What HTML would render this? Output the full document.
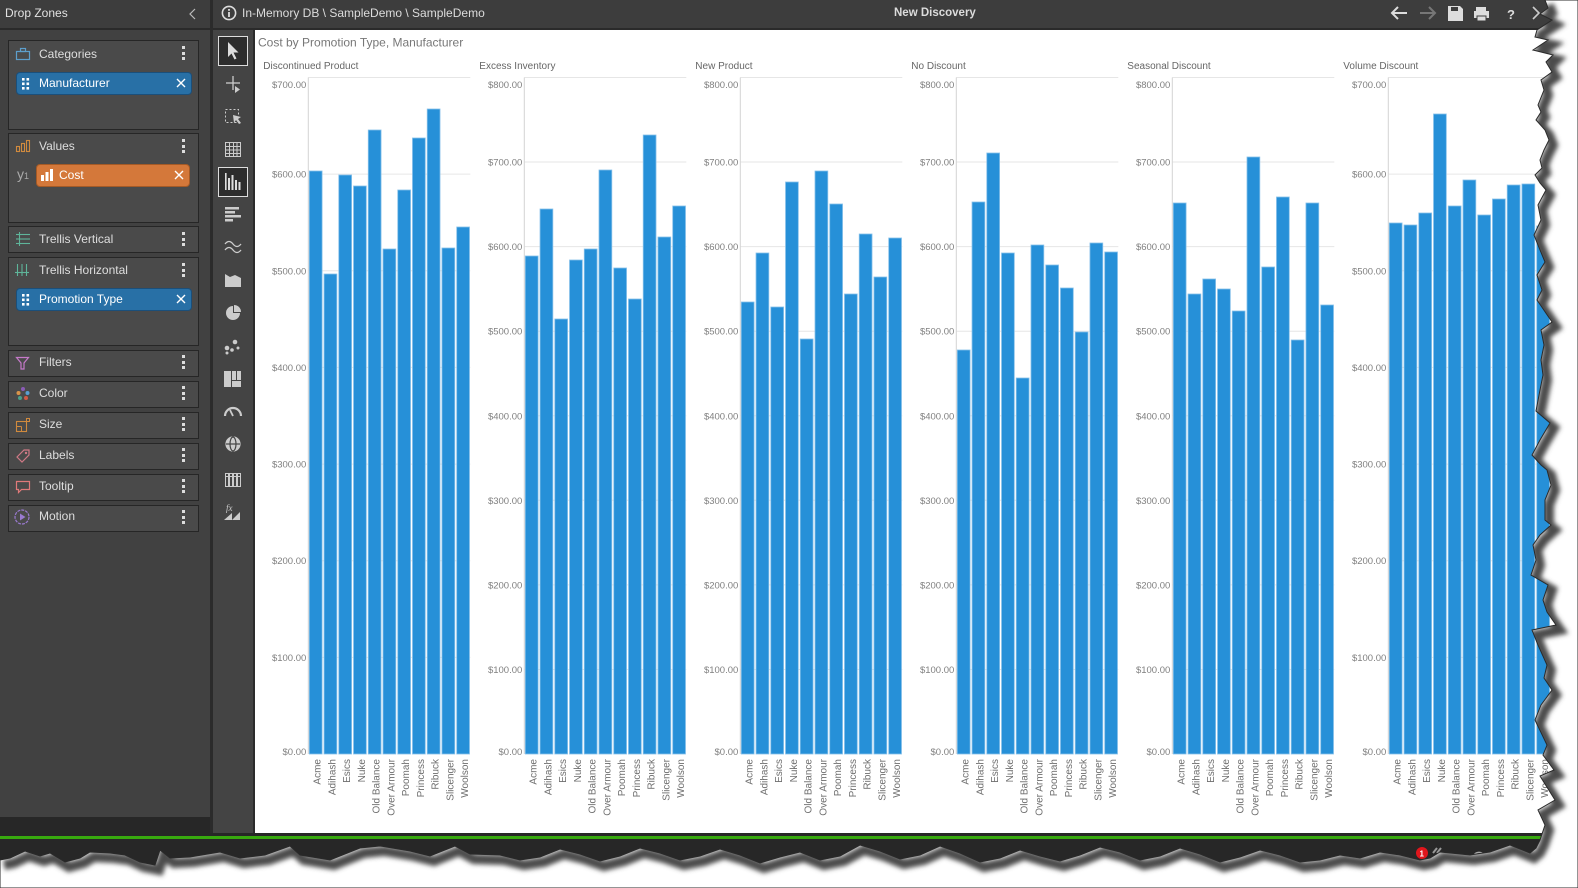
<!DOCTYPE html>
<html>
<head>
<meta charset="utf-8">
<style>
*{margin:0;padding:0;box-sizing:border-box;}
html,body{width:1578px;height:888px;overflow:hidden;background:#fff;}
body{position:relative;font-family:"Liberation Sans",sans-serif;}
.abs{position:absolute;}
.box{position:absolute;left:8px;width:191px;background:#4a4a4a;border:1px solid #262626;}
.lbl{position:absolute;left:31px;font-size:12px;color:#dedede;line-height:16px;white-space:nowrap;}
.keb{position:absolute;left:174px;width:3px;}
.keb i{display:block;width:3px;height:3px;background:#ddd;margin-bottom:2.5px;}
.chip{position:absolute;border-radius:4px;color:#fff;font-size:12px;line-height:20px;white-space:nowrap;}
.ico{position:absolute;}
</style>
</head>
<body>
<!-- top / header -->
<div class="abs" style="left:0;top:0;width:210px;height:28px;background:#3d3d3d;"></div>
<div class="abs" style="left:213px;top:0;width:1365px;height:28px;background:#3d3d3d;"></div>
<div class="abs" style="left:0;top:28px;width:1578px;height:2px;background:#2a2a2a;"></div>
<div class="abs" style="left:210px;top:0;width:3px;height:888px;background:#2b2b2b;"></div>
<div class="abs" style="left:5px;top:5px;font-size:12px;line-height:16px;color:#e2e2e2;">Drop Zones</div>
<svg class="abs" style="left:186px;top:7px" width="12" height="14"><polyline points="9,2 4,7 9,12" fill="none" stroke="#bbb" stroke-width="1.2"/></svg>

<svg class="abs" style="left:221px;top:5px" width="17" height="17"><circle cx="8" cy="8" r="6.6" fill="none" stroke="#ddd" stroke-width="1.6"/><rect x="7.1" y="7" width="1.8" height="5" fill="#ddd"/><rect x="7.1" y="4" width="1.8" height="1.8" fill="#ddd"/></svg>
<div class="abs" style="left:242px;top:5px;font-size:12px;line-height:16px;color:#dcdcdc;white-space:nowrap;">In-Memory DB \ SampleDemo \ SampleDemo</div>
<div class="abs" style="left:894px;top:5px;font-size:11.5px;font-weight:bold;line-height:16px;color:#dcdcdc;white-space:nowrap;">New Discovery</div>
<svg class="abs" style="left:1388px;top:4px" width="160" height="20">
 <g stroke="#ddd" stroke-width="2" fill="none"><line x1="4" y1="9" x2="19" y2="9"/><polyline points="10,3 4,9 10,15"/></g>
 <g stroke="#777" stroke-width="2" fill="none"><line x1="32" y1="9" x2="47" y2="9"/><polyline points="41,3 47,9 41,15"/></g>
 <path d="M60 2 h12 l3 3 v12 h-15 z" fill="#ddd"/><rect x="63" y="3" width="7" height="4" fill="#3d3d3d"/>
 <rect x="88" y="3" width="10" height="4" fill="#ddd"/><rect x="86" y="7" width="15" height="7" fill="#ddd"/><rect x="89" y="12" width="9" height="5" fill="#ddd" stroke="#3d3d3d" stroke-width="1"/>
 <text x="119" y="15" font-size="13" font-weight="bold" fill="#ddd" font-family="Liberation Sans">?</text>
 <polyline points="145,3 151,9 145,15" stroke="#ccc" stroke-width="1.6" fill="none"/>
</svg>

<!-- left panel body -->
<div class="abs" style="left:0;top:30px;width:210px;height:787px;background:#414141;"></div>
<div class="abs" style="left:0;top:817px;width:210px;height:20px;background:#272727;"></div>

<!-- Categories -->
<div class="box" style="top:40px;height:90px;"></div>
<svg class="ico" style="left:15px;top:46px" width="16" height="16"><rect x="1.5" y="5.5" width="13" height="8" fill="none" stroke="#5d9fcc" stroke-width="1.2"/><rect x="5.5" y="2.5" width="5" height="3" fill="none" stroke="#5d9fcc" stroke-width="1.2"/></svg>
<div class="lbl" style="left:39px;top:46px;">Categories</div>
<div class="keb" style="left:182px;top:46px;"><i></i><i></i><i></i></div>
<div class="chip" style="left:16px;top:72px;width:176px;height:23px;background:#2870a6;border:1px solid #1b4f7a;">
 <svg style="position:absolute;left:5px;top:5px" width="8" height="12"><g fill="#fff"><rect x="0" y="0" width="2.6" height="2.6"/><rect x="4.5" y="0" width="2.6" height="2.6"/><rect x="0" y="4.5" width="2.6" height="2.6"/><rect x="4.5" y="4.5" width="2.6" height="2.6"/><rect x="0" y="9" width="2.6" height="2.6"/><rect x="4.5" y="9" width="2.6" height="2.6"/></g></svg>
 <span style="position:absolute;left:22px;top:0;">Manufacturer</span>
 <svg style="position:absolute;left:159px;top:5px" width="10" height="10"><path d="M1 1L9 9M9 1L1 9" stroke="#fff" stroke-width="1.4"/></svg>
</div>

<!-- Values -->
<div class="box" style="top:133px;height:90px;"></div>
<svg class="ico" style="left:15px;top:139px" width="16" height="14"><g fill="none" stroke="#d08a3e" stroke-width="1.1"><rect x="1.5" y="7.5" width="3" height="5"/><rect x="6.5" y="4.5" width="3" height="8"/><rect x="11.5" y="1.5" width="3" height="11"/></g></svg>
<div class="lbl" style="left:39px;top:138px;">Values</div>
<div class="keb" style="left:182px;top:139px;"><i></i><i></i><i></i></div>
<div class="abs" style="left:17px;top:165px;font-size:14px;color:#aaa;line-height:18px;">y<span style="font-size:9px">1</span></div>
<div class="chip" style="left:36px;top:164px;width:154px;height:23px;background:#d4783a;border:1px solid #a55a26;">
 <svg style="position:absolute;left:4px;top:4px" width="12" height="12"><g fill="#fff"><rect x="0" y="6" width="3" height="6"/><rect x="4.5" y="3" width="3" height="9"/><rect x="9" y="0" width="3" height="12"/></g></svg>
 <span style="position:absolute;left:22px;top:0;">Cost</span>
 <svg style="position:absolute;left:137px;top:5px" width="10" height="10"><path d="M1 1L9 9M9 1L1 9" stroke="#fff" stroke-width="1.4"/></svg>
</div>

<!-- Trellis Vertical -->
<div class="box" style="top:226px;height:27px;"></div>
<svg class="ico" style="left:15px;top:232px" width="16" height="14"><g stroke="#5fb59a" stroke-width="1.1"><line x1="1" y1="2.5" x2="15" y2="2.5"/><line x1="1" y1="7" x2="15" y2="7"/><line x1="1" y1="11.5" x2="15" y2="11.5"/><line x1="4.5" y1="0" x2="4.5" y2="14"/></g></svg>
<div class="lbl" style="left:39px;top:231px;">Trellis Vertical</div>
<div class="keb" style="left:182px;top:232px;"><i></i><i></i><i></i></div>

<!-- Trellis Horizontal -->
<div class="box" style="top:257px;height:89px;"></div>
<svg class="ico" style="left:15px;top:263px" width="16" height="14"><g stroke="#5fb59a" stroke-width="1.1"><line x1="2.5" y1="1" x2="2.5" y2="13"/><line x1="7" y1="1" x2="7" y2="13"/><line x1="11.5" y1="1" x2="11.5" y2="13"/><line x1="0" y1="9.5" x2="14" y2="9.5"/></g></svg>
<div class="lbl" style="left:39px;top:262px;">Trellis Horizontal</div>
<div class="keb" style="left:182px;top:263px;"><i></i><i></i><i></i></div>
<div class="chip" style="left:16px;top:288px;width:176px;height:23px;background:#2870a6;border:1px solid #1b4f7a;">
 <svg style="position:absolute;left:5px;top:5px" width="8" height="12"><g fill="#fff"><rect x="0" y="0" width="2.6" height="2.6"/><rect x="4.5" y="0" width="2.6" height="2.6"/><rect x="0" y="4.5" width="2.6" height="2.6"/><rect x="4.5" y="4.5" width="2.6" height="2.6"/><rect x="0" y="9" width="2.6" height="2.6"/><rect x="4.5" y="9" width="2.6" height="2.6"/></g></svg>
 <span style="position:absolute;left:22px;top:0;">Promotion Type</span>
 <svg style="position:absolute;left:159px;top:5px" width="10" height="10"><path d="M1 1L9 9M9 1L1 9" stroke="#fff" stroke-width="1.4"/></svg>
</div>

<!-- small boxes -->
<div class="box" style="top:350px;height:27px;"></div>
<svg class="ico" style="left:15px;top:355px" width="16" height="16"><path d="M1.5 2.5h12l-4.5 5.5v6h-3v-6z" fill="none" stroke="#c57ac9" stroke-width="1.2"/></svg>
<div class="lbl" style="left:39px;top:354px;">Filters</div>
<div class="keb" style="left:182px;top:355px;"><i></i><i></i><i></i></div>

<div class="box" style="top:381px;height:27px;"></div>
<svg class="ico" style="left:15px;top:386px" width="16" height="16"><circle cx="8" cy="3" r="2" fill="#8a5bb5"/><circle cx="3.5" cy="7" r="2" fill="#d9944a"/><circle cx="12.5" cy="7" r="2" fill="#5a9fd1"/><circle cx="5" cy="12" r="2" fill="#4ca089"/><circle cx="11" cy="12" r="2" fill="#d25a45"/></svg>
<div class="lbl" style="left:39px;top:385px;">Color</div>
<div class="keb" style="left:182px;top:386px;"><i></i><i></i><i></i></div>

<div class="box" style="top:412px;height:27px;"></div>
<svg class="ico" style="left:15px;top:417px" width="16" height="16"><rect x="1.5" y="4.5" width="10" height="10" fill="none" stroke="#d08a3e" stroke-width="1.1"/><line x1="1.5" y1="9.5" x2="6.5" y2="9.5" stroke="#d08a3e"/><line x1="6.5" y1="9.5" x2="6.5" y2="14.5" stroke="#d08a3e"/><rect x="11.5" y="1.5" width="3" height="3" fill="none" stroke="#d08a3e"/></svg>
<div class="lbl" style="left:39px;top:416px;">Size</div>
<div class="keb" style="left:182px;top:417px;"><i></i><i></i><i></i></div>

<div class="box" style="top:443px;height:27px;"></div>
<svg class="ico" style="left:15px;top:448px" width="16" height="16"><path d="M2 9l7-7h5v5l-7 7z" fill="none" stroke="#d07a86" stroke-width="1.2"/><circle cx="11" cy="5" r="1.2" fill="#d07a86"/></svg>
<div class="lbl" style="left:39px;top:447px;">Labels</div>
<div class="keb" style="left:182px;top:448px;"><i></i><i></i><i></i></div>

<div class="box" style="top:474px;height:27px;"></div>
<svg class="ico" style="left:15px;top:479px" width="16" height="16"><path d="M1.5 2.5h13v8h-8l-3 3v-3h-2z" fill="none" stroke="#e07a7a" stroke-width="1.2"/></svg>
<div class="lbl" style="left:39px;top:478px;">Tooltip</div>
<div class="keb" style="left:182px;top:479px;"><i></i><i></i><i></i></div>

<div class="box" style="top:505px;height:27px;"></div>
<svg class="ico" style="left:13px;top:508px" width="18" height="18"><circle cx="9" cy="9" r="7" fill="none" stroke="#9a7ad0" stroke-width="1.2" stroke-dasharray="3 1"/><path d="M7 5.5v7l5.5-3.5z" fill="#9a7ad0"/></svg>
<div class="lbl" style="left:39px;top:508px;">Motion</div>
<div class="keb" style="left:182px;top:510px;"><i></i><i></i><i></i></div>

<!-- toolbar -->
<div class="abs" style="left:213px;top:30px;width:40px;height:803px;background:#444;"></div>
<div class="abs" style="left:253px;top:30px;width:2px;height:803px;background:#2b2b2b;"></div>
<svg class="abs" style="left:213px;top:30px" width="40" height="500">
 <rect x="5.5" y="6.5" width="29" height="29" fill="#2d2d2d" stroke="#ddd"/>
 <path d="M15 12 v15 l3.5-3.5 3 6 2-1-3-6 h5z" fill="#ddd"/>
 <g stroke="#ccc" stroke-width="1.3"><line x1="20" y1="46" x2="20" y2="60"/><line x1="13" y1="53" x2="27" y2="53"/></g><path d="M22 56v7l5-3.5z" fill="#ccc"/>
 <rect x="12.5" y="79.5" width="13" height="13" fill="none" stroke="#ccc" stroke-dasharray="2 2"/><path d="M20 85l8 2-3 2 3 4-2 1-3-4-2 3z" fill="#ccc"/>
 <g fill="none" stroke="#ccc" stroke-width="1"><rect x="12.5" y="112.5" width="15" height="14"/><line x1="12.5" y1="116.5" x2="27.5" y2="116.5"/><line x1="12.5" y1="120" x2="27.5" y2="120"/><line x1="12.5" y1="123.5" x2="27.5" y2="123.5"/><line x1="16.5" y1="112.5" x2="16.5" y2="126.5"/><line x1="20.5" y1="112.5" x2="20.5" y2="126.5"/><line x1="24" y1="112.5" x2="24" y2="126.5"/></g>
 <rect x="5.5" y="137.5" width="29" height="29" fill="#2d2d2d" stroke="#ddd"/>
 <g fill="#ddd"><rect x="12" y="143" width="1.6" height="17"/><rect x="15" y="148" width="2" height="12"/><rect x="18.5" y="145" width="2" height="15"/><rect x="22" y="150" width="2" height="10"/><rect x="25.5" y="152" width="2" height="8"/></g>
 <g fill="#ccc"><rect x="12" y="177" width="14" height="2.5"/><rect x="12" y="181" width="10" height="2.5"/><rect x="12" y="185" width="16" height="2.5"/><rect x="12" y="189" width="8" height="2.5"/></g>
 <g fill="none" stroke="#ccc" stroke-width="1.3"><path d="M12 214 q4-5 8 0 t8 0"/><path d="M12 220 q4-5 8 0 t8 0"/></g>
 <path d="M12 244 l5 3 5-2 6 3 v9 h-16z" fill="#ccc"/>
 <path d="M20 276 a7 7 0 1 0 7 7 h-7z" fill="#ccc"/><path d="M21 275 a7 7 0 0 1 7 7 h-7z" fill="#ccc"/>
 <g fill="#ccc"><circle cx="14" cy="318" r="2.3"/><circle cx="22" cy="312" r="2.3"/><circle cx="19" cy="320" r="1.8"/><circle cx="25" cy="318" r="1.5"/><circle cx="14" cy="323" r="1.5"/></g>
 <g fill="#ccc"><rect x="11" y="341" width="7" height="16"/><rect x="19" y="341" width="4" height="9"/><rect x="24" y="341" width="4" height="9"/><rect x="19" y="351" width="9" height="6"/></g>
 <path d="M12 386 a8 8 0 0 1 16 0" fill="none" stroke="#ccc" stroke-width="2.2"/><line x1="20" y1="386" x2="17" y2="380" stroke="#ccc" stroke-width="1.8"/>
 <g fill="none" stroke="#ccc" stroke-width="1.2"><circle cx="20" cy="414" r="7" fill="#ccc"/><ellipse cx="20" cy="414" rx="3" ry="7" stroke="#444"/><line x1="13" y1="414" x2="27" y2="414" stroke="#444"/></g>
 <g fill="none" stroke="#ccc" stroke-width="1"><rect x="12.5" y="443.5" width="3" height="13"/><rect x="16.5" y="443.5" width="3" height="13"/><rect x="20.5" y="443.5" width="3" height="13"/><rect x="24.5" y="443.5" width="3" height="13"/><line x1="12" y1="446.5" x2="28" y2="446.5"/></g>
 <text x="13" y="481" font-size="9" font-style="italic" fill="#ccc" font-family="Liberation Serif">fx</text><path d="M11 490 l8-7 v7z M19 490 l8-8 v8z" fill="#ccc"/>
</svg>

<!-- bottom -->
<div class="abs" style="left:0;top:833px;width:1578px;height:55px;background:#272727;"></div>
<div class="abs" style="left:0;top:836px;width:1578px;height:3px;background:#38a90f;"></div>
<svg class="abs" style="left:1410px;top:840px" width="120" height="25"><circle cx="12" cy="13" r="6" fill="#e0161c"/><text x="9.5" y="16.5" font-size="8" fill="#fff" font-family="Liberation Sans" font-weight="bold">1</text><path d="M23 13 l4-5 M27 13 l4-5" stroke="#999" stroke-width="2"/><path d="M64 15 a6 6 0 0 1 10 0" stroke="#aaa" fill="none" stroke-width="1.5"/><path d="M93 13 a6 6 0 0 1 10 3" stroke="#aaa" fill="none" stroke-width="1.5"/></svg>

<!-- chart area -->
<div class="abs" style="left:255px;top:30px;width:1323px;height:803px;background:#fff;"></div>

<svg class="abs" style="left:0;top:0" width="1578" height="888" font-family="Liberation Sans">
<text x="258" y="46.5" font-size="12" fill="#777">Cost by Promotion Type, Manufacturer</text>

<!-- Panel 1 -->
<g transform="translate(308.3,0)">
 <text x="-45" y="69" font-size="10" fill="#666">Discontinued Product</text>
 <g stroke="#e6e6e6" stroke-width="1"><line x1="0" y1="77.5" x2="162" y2="77.5"/><line x1="0" y1="174.14" x2="162" y2="174.14"/><line x1="0" y1="270.79" x2="162" y2="270.79"/><line x1="0" y1="367.43" x2="162" y2="367.43"/><line x1="0" y1="464.07" x2="162" y2="464.07"/><line x1="0" y1="560.71" x2="162" y2="560.71"/><line x1="0" y1="657.36" x2="162" y2="657.36"/></g>
 <line x1="0" y1="77.5" x2="0" y2="754" stroke="#d4d4d4"/>
 <g font-size="9.5" fill="#808080" text-anchor="end"><text x="-2" y="87.8">$700.00</text><text x="-2" y="177.6">$600.00</text><text x="-2" y="274.3">$500.00</text><text x="-2" y="370.9">$400.00</text><text x="-2" y="467.6">$300.00</text><text x="-2" y="564.2">$200.00</text><text x="-2" y="660.9">$100.00</text><text x="-2" y="755">$0.00</text></g>
 <g fill="#2690d8" stroke="#86c0ea" stroke-width="0.8">
  <rect x="1" y="171" width="12.8" height="583"/><rect x="15.74" y="274" width="12.8" height="480"/><rect x="30.48" y="175" width="12.8" height="579"/><rect x="45.22" y="186" width="12.8" height="568"/><rect x="59.96" y="130" width="12.8" height="624"/><rect x="74.7" y="249" width="12.8" height="505"/><rect x="89.44" y="190" width="12.8" height="564"/><rect x="104.18" y="138" width="12.8" height="616"/><rect x="118.92" y="109" width="12.8" height="645"/><rect x="133.66" y="248" width="12.8" height="506"/><rect x="148.4" y="227" width="12.8" height="527"/>
 </g>
 <g font-size="10" fill="#6e6e6e" text-anchor="end">
  <text transform="translate(12.4,759) rotate(-90)">Acme</text><text transform="translate(27.14,759) rotate(-90)">Adihash</text><text transform="translate(41.88,759) rotate(-90)">Esics</text><text transform="translate(56.62,759) rotate(-90)">Nuke</text><text transform="translate(71.36,759) rotate(-90)">Old Balance</text><text transform="translate(86.1,759) rotate(-90)">Over Armour</text><text transform="translate(100.84,759) rotate(-90)">Poomah</text><text transform="translate(115.58,759) rotate(-90)">Princess</text><text transform="translate(130.32,759) rotate(-90)">Ribuck</text><text transform="translate(145.06,759) rotate(-90)">Slicenger</text><text transform="translate(159.8,759) rotate(-90)">Woolson</text>
 </g>
</g>

<!-- Panel 2 -->
<g transform="translate(524.3,0)">
 <text x="-45" y="69" font-size="10" fill="#666">Excess Inventory</text>
 <g stroke="#e6e6e6" stroke-width="1"><line x1="0" y1="77.5" x2="162" y2="77.5"/><line x1="0" y1="162.06" x2="162" y2="162.06"/><line x1="0" y1="246.63" x2="162" y2="246.63"/><line x1="0" y1="331.19" x2="162" y2="331.19"/><line x1="0" y1="415.75" x2="162" y2="415.75"/><line x1="0" y1="500.31" x2="162" y2="500.31"/><line x1="0" y1="584.88" x2="162" y2="584.88"/><line x1="0" y1="669.44" x2="162" y2="669.44"/></g>
 <line x1="0" y1="77.5" x2="0" y2="754" stroke="#d4d4d4"/>
 <g font-size="9.5" fill="#808080" text-anchor="end"><text x="-2" y="87.8">$800.00</text><text x="-2" y="165.6">$700.00</text><text x="-2" y="250.1">$600.00</text><text x="-2" y="334.7">$500.00</text><text x="-2" y="419.3">$400.00</text><text x="-2" y="503.8">$300.00</text><text x="-2" y="588.4">$200.00</text><text x="-2" y="672.9">$100.00</text><text x="-2" y="755">$0.00</text></g>
 <g fill="#2690d8" stroke="#86c0ea" stroke-width="0.8">
  <rect x="1" y="256" width="12.8" height="498"/><rect x="15.74" y="209" width="12.8" height="545"/><rect x="30.48" y="319" width="12.8" height="435"/><rect x="45.22" y="260" width="12.8" height="494"/><rect x="59.96" y="249" width="12.8" height="505"/><rect x="74.7" y="170" width="12.8" height="584"/><rect x="89.44" y="268" width="12.8" height="486"/><rect x="104.18" y="299" width="12.8" height="455"/><rect x="118.92" y="135" width="12.8" height="619"/><rect x="133.66" y="237" width="12.8" height="517"/><rect x="148.4" y="206" width="12.8" height="548"/>
 </g>
 <g font-size="10" fill="#6e6e6e" text-anchor="end">
  <text transform="translate(12.4,759) rotate(-90)">Acme</text><text transform="translate(27.14,759) rotate(-90)">Adihash</text><text transform="translate(41.88,759) rotate(-90)">Esics</text><text transform="translate(56.62,759) rotate(-90)">Nuke</text><text transform="translate(71.36,759) rotate(-90)">Old Balance</text><text transform="translate(86.1,759) rotate(-90)">Over Armour</text><text transform="translate(100.84,759) rotate(-90)">Poomah</text><text transform="translate(115.58,759) rotate(-90)">Princess</text><text transform="translate(130.32,759) rotate(-90)">Ribuck</text><text transform="translate(145.06,759) rotate(-90)">Slicenger</text><text transform="translate(159.8,759) rotate(-90)">Woolson</text>
 </g>
</g>

<!-- Panel 3 -->
<g transform="translate(740.3,0)">
 <text x="-45" y="69" font-size="10" fill="#666">New Product</text>
 <g stroke="#e6e6e6" stroke-width="1"><line x1="0" y1="77.5" x2="162" y2="77.5"/><line x1="0" y1="162.06" x2="162" y2="162.06"/><line x1="0" y1="246.63" x2="162" y2="246.63"/><line x1="0" y1="331.19" x2="162" y2="331.19"/><line x1="0" y1="415.75" x2="162" y2="415.75"/><line x1="0" y1="500.31" x2="162" y2="500.31"/><line x1="0" y1="584.88" x2="162" y2="584.88"/><line x1="0" y1="669.44" x2="162" y2="669.44"/></g>
 <line x1="0" y1="77.5" x2="0" y2="754" stroke="#d4d4d4"/>
 <g font-size="9.5" fill="#808080" text-anchor="end"><text x="-2" y="87.8">$800.00</text><text x="-2" y="165.6">$700.00</text><text x="-2" y="250.1">$600.00</text><text x="-2" y="334.7">$500.00</text><text x="-2" y="419.3">$400.00</text><text x="-2" y="503.8">$300.00</text><text x="-2" y="588.4">$200.00</text><text x="-2" y="672.9">$100.00</text><text x="-2" y="755">$0.00</text></g>
 <g fill="#2690d8" stroke="#86c0ea" stroke-width="0.8">
  <rect x="1" y="302" width="12.8" height="452"/><rect x="15.74" y="253" width="12.8" height="501"/><rect x="30.48" y="307" width="12.8" height="447"/><rect x="45.22" y="182" width="12.8" height="572"/><rect x="59.96" y="339" width="12.8" height="415"/><rect x="74.7" y="171" width="12.8" height="583"/><rect x="89.44" y="204" width="12.8" height="550"/><rect x="104.18" y="294" width="12.8" height="460"/><rect x="118.92" y="234" width="12.8" height="520"/><rect x="133.66" y="277" width="12.8" height="477"/><rect x="148.4" y="238" width="12.8" height="516"/>
 </g>
 <g font-size="10" fill="#6e6e6e" text-anchor="end">
  <text transform="translate(12.4,759) rotate(-90)">Acme</text><text transform="translate(27.14,759) rotate(-90)">Adihash</text><text transform="translate(41.88,759) rotate(-90)">Esics</text><text transform="translate(56.62,759) rotate(-90)">Nuke</text><text transform="translate(71.36,759) rotate(-90)">Old Balance</text><text transform="translate(86.1,759) rotate(-90)">Over Armour</text><text transform="translate(100.84,759) rotate(-90)">Poomah</text><text transform="translate(115.58,759) rotate(-90)">Princess</text><text transform="translate(130.32,759) rotate(-90)">Ribuck</text><text transform="translate(145.06,759) rotate(-90)">Slicenger</text><text transform="translate(159.8,759) rotate(-90)">Woolson</text>
 </g>
</g>

<!-- Panel 4 -->
<g transform="translate(956.3,0)">
 <text x="-45" y="69" font-size="10" fill="#666">No Discount</text>
 <g stroke="#e6e6e6" stroke-width="1"><line x1="0" y1="77.5" x2="162" y2="77.5"/><line x1="0" y1="162.06" x2="162" y2="162.06"/><line x1="0" y1="246.63" x2="162" y2="246.63"/><line x1="0" y1="331.19" x2="162" y2="331.19"/><line x1="0" y1="415.75" x2="162" y2="415.75"/><line x1="0" y1="500.31" x2="162" y2="500.31"/><line x1="0" y1="584.88" x2="162" y2="584.88"/><line x1="0" y1="669.44" x2="162" y2="669.44"/></g>
 <line x1="0" y1="77.5" x2="0" y2="754" stroke="#d4d4d4"/>
 <g font-size="9.5" fill="#808080" text-anchor="end"><text x="-2" y="87.8">$800.00</text><text x="-2" y="165.6">$700.00</text><text x="-2" y="250.1">$600.00</text><text x="-2" y="334.7">$500.00</text><text x="-2" y="419.3">$400.00</text><text x="-2" y="503.8">$300.00</text><text x="-2" y="588.4">$200.00</text><text x="-2" y="672.9">$100.00</text><text x="-2" y="755">$0.00</text></g>
 <g fill="#2690d8" stroke="#86c0ea" stroke-width="0.8">
  <rect x="1" y="350" width="12.8" height="404"/><rect x="15.74" y="202" width="12.8" height="552"/><rect x="30.48" y="153" width="12.8" height="601"/><rect x="45.22" y="253" width="12.8" height="501"/><rect x="59.96" y="378" width="12.8" height="376"/><rect x="74.7" y="245" width="12.8" height="509"/><rect x="89.44" y="265" width="12.8" height="489"/><rect x="104.18" y="288" width="12.8" height="466"/><rect x="118.92" y="332" width="12.8" height="422"/><rect x="133.66" y="243" width="12.8" height="511"/><rect x="148.4" y="252" width="12.8" height="502"/>
 </g>
 <g font-size="10" fill="#6e6e6e" text-anchor="end">
  <text transform="translate(12.4,759) rotate(-90)">Acme</text><text transform="translate(27.14,759) rotate(-90)">Adihash</text><text transform="translate(41.88,759) rotate(-90)">Esics</text><text transform="translate(56.62,759) rotate(-90)">Nuke</text><text transform="translate(71.36,759) rotate(-90)">Old Balance</text><text transform="translate(86.1,759) rotate(-90)">Over Armour</text><text transform="translate(100.84,759) rotate(-90)">Poomah</text><text transform="translate(115.58,759) rotate(-90)">Princess</text><text transform="translate(130.32,759) rotate(-90)">Ribuck</text><text transform="translate(145.06,759) rotate(-90)">Slicenger</text><text transform="translate(159.8,759) rotate(-90)">Woolson</text>
 </g>
</g>

<!-- Panel 5 -->
<g transform="translate(1172.3,0)">
 <text x="-45" y="69" font-size="10" fill="#666">Seasonal Discount</text>
 <g stroke="#e6e6e6" stroke-width="1"><line x1="0" y1="77.5" x2="162" y2="77.5"/><line x1="0" y1="162.06" x2="162" y2="162.06"/><line x1="0" y1="246.63" x2="162" y2="246.63"/><line x1="0" y1="331.19" x2="162" y2="331.19"/><line x1="0" y1="415.75" x2="162" y2="415.75"/><line x1="0" y1="500.31" x2="162" y2="500.31"/><line x1="0" y1="584.88" x2="162" y2="584.88"/><line x1="0" y1="669.44" x2="162" y2="669.44"/></g>
 <line x1="0" y1="77.5" x2="0" y2="754" stroke="#d4d4d4"/>
 <g font-size="9.5" fill="#808080" text-anchor="end"><text x="-2" y="87.8">$800.00</text><text x="-2" y="165.6">$700.00</text><text x="-2" y="250.1">$600.00</text><text x="-2" y="334.7">$500.00</text><text x="-2" y="419.3">$400.00</text><text x="-2" y="503.8">$300.00</text><text x="-2" y="588.4">$200.00</text><text x="-2" y="672.9">$100.00</text><text x="-2" y="755">$0.00</text></g>
 <g fill="#2690d8" stroke="#86c0ea" stroke-width="0.8">
  <rect x="1" y="203" width="12.8" height="551"/><rect x="15.74" y="294" width="12.8" height="460"/><rect x="30.48" y="279" width="12.8" height="475"/><rect x="45.22" y="289" width="12.8" height="465"/><rect x="59.96" y="311" width="12.8" height="443"/><rect x="74.7" y="157" width="12.8" height="597"/><rect x="89.44" y="267" width="12.8" height="487"/><rect x="104.18" y="197" width="12.8" height="557"/><rect x="118.92" y="340" width="12.8" height="414"/><rect x="133.66" y="203" width="12.8" height="551"/><rect x="148.4" y="305" width="12.8" height="449"/>
 </g>
 <g font-size="10" fill="#6e6e6e" text-anchor="end">
  <text transform="translate(12.4,759) rotate(-90)">Acme</text><text transform="translate(27.14,759) rotate(-90)">Adihash</text><text transform="translate(41.88,759) rotate(-90)">Esics</text><text transform="translate(56.62,759) rotate(-90)">Nuke</text><text transform="translate(71.36,759) rotate(-90)">Old Balance</text><text transform="translate(86.1,759) rotate(-90)">Over Armour</text><text transform="translate(100.84,759) rotate(-90)">Poomah</text><text transform="translate(115.58,759) rotate(-90)">Princess</text><text transform="translate(130.32,759) rotate(-90)">Ribuck</text><text transform="translate(145.06,759) rotate(-90)">Slicenger</text><text transform="translate(159.8,759) rotate(-90)">Woolson</text>
 </g>
</g>

<!-- Panel 6 -->
<g transform="translate(1388.3,0)">
 <text x="-45" y="69" font-size="10" fill="#666">Volume Discount</text>
 <g stroke="#e6e6e6" stroke-width="1"><line x1="0" y1="77.5" x2="162" y2="77.5"/><line x1="0" y1="174.14" x2="162" y2="174.14"/><line x1="0" y1="270.79" x2="162" y2="270.79"/><line x1="0" y1="367.43" x2="162" y2="367.43"/><line x1="0" y1="464.07" x2="162" y2="464.07"/><line x1="0" y1="560.71" x2="162" y2="560.71"/><line x1="0" y1="657.36" x2="162" y2="657.36"/></g>
 <line x1="0" y1="77.5" x2="0" y2="754" stroke="#d4d4d4"/>
 <g font-size="9.5" fill="#808080" text-anchor="end"><text x="-2" y="87.8">$700.00</text><text x="-2" y="177.6">$600.00</text><text x="-2" y="274.3">$500.00</text><text x="-2" y="370.9">$400.00</text><text x="-2" y="467.6">$300.00</text><text x="-2" y="564.2">$200.00</text><text x="-2" y="660.9">$100.00</text><text x="-2" y="755">$0.00</text></g>
 <g fill="#2690d8" stroke="#86c0ea" stroke-width="0.8">
  <rect x="1" y="223" width="12.8" height="531"/><rect x="15.74" y="225" width="12.8" height="529"/><rect x="30.48" y="213" width="12.8" height="541"/><rect x="45.22" y="114" width="12.8" height="640"/><rect x="59.96" y="206" width="12.8" height="548"/><rect x="74.7" y="180" width="12.8" height="574"/><rect x="89.44" y="215" width="12.8" height="539"/><rect x="104.18" y="199" width="12.8" height="555"/><rect x="118.92" y="185" width="12.8" height="569"/><rect x="133.66" y="184" width="12.8" height="570"/><rect x="148.4" y="226" width="12.8" height="528"/>
 </g>
 <g font-size="10" fill="#6e6e6e" text-anchor="end">
  <text transform="translate(12.4,759) rotate(-90)">Acme</text><text transform="translate(27.14,759) rotate(-90)">Adihash</text><text transform="translate(41.88,759) rotate(-90)">Esics</text><text transform="translate(56.62,759) rotate(-90)">Nuke</text><text transform="translate(71.36,759) rotate(-90)">Old Balance</text><text transform="translate(86.1,759) rotate(-90)">Over Armour</text><text transform="translate(100.84,759) rotate(-90)">Poomah</text><text transform="translate(115.58,759) rotate(-90)">Princess</text><text transform="translate(130.32,759) rotate(-90)">Ribuck</text><text transform="translate(145.06,759) rotate(-90)">Slicenger</text><text transform="translate(159.8,759) rotate(-90)">Woolson</text>
 </g>
</g>
</svg>

<!-- torn edge overlay -->
<svg class="abs" style="left:0;top:0" width="1578" height="888">
<defs>
 <filter id="bl" x="-5%" y="-5%" width="110%" height="110%"><feGaussianBlur stdDeviation="2.4"/></filter>
 <clipPath id="outside"><path id="outp" d="M1578,0 L1545,0 L1548,8 L1540,14 L1552,20 L1537,30 L1535,37 L1548,40 L1533,50 L1553,55 L1546,62 L1552,72 L1541,80 L1544,90 L1538,105 L1541,112 L1536,120 L1545,130 L1549,140 L1544,150 L1540,160 L1542,168 L1535,175 L1540,183 L1546,190 L1538,205 L1541,220 L1534,235 L1540,250 L1545,262 L1537,275 L1542,290 L1537,300 L1552,322 L1541,330 L1544,345 L1541,360 L1543,375 L1540,390 L1536,411 L1550,423 L1540,440 L1532,455 L1541,465 L1547,470 L1551,485 L1545,500 L1545,520 L1551,525 L1540,535 L1533,545 L1536,560 L1531,575 L1548,585 L1543,600 L1547,612 L1556,625 L1532,630 L1538,645 L1547,665 L1544,678 L1552,690 L1541,705 L1535,720 L1547,745 L1543,755 L1554,770 L1540,776 L1555,800 L1538,810 L1545,825 L1540,840 L1536,848 L1530,853 L1510,845 L1490,852 L1470,855 L1440,852 L1430,858 L1420,860 L1400,855 L1380,852 L1360,858 L1340,855 L1320,860 L1300,862 L1280,855 L1260,850 L1240,857 L1220,862 L1200,854 L1180,848 L1160,856 L1140,860 L1120,852 L1100,847 L1080,855 L1060,861 L1040,856 L1020,850 L1000,858 L980,862 L960,853 L940,846 L920,855 L900,859 L880,851 L860,845 L840,856 L820,860 L800,852 L780,857 L760,863 L740,855 L720,849 L700,856 L680,860 L660,853 L640,848 L620,856 L600,861 L580,854 L560,849 L540,857 L520,860 L500,855 L470,854 L455,846 L430,856 L410,851 L380,846 L360,848 L330,860 L300,855 L290,846 L265,855 L240,858 L220,852 L190,857 L170,858 L160,850 L155,865 L140,862 L125,855 L110,853 L90,852 L80,858 L65,862 L50,853 L40,856 L25,851 L10,858 L0,860 L0,888 L1578,888 Z"/></clipPath>
</defs>
<use href="#outp" fill="#ffffff"/>
<g clip-path="url(#outside)">
 <polyline transform="translate(4,5)" filter="url(#bl)" fill="none" stroke="#4c4c4c" stroke-width="10" points="1545,0 1548,8 1540,14 1552,20 1537,30 1535,37 1548,40 1533,50 1553,55 1546,62 1552,72 1541,80 1544,90 1538,105 1541,112 1536,120 1545,130 1549,140 1544,150 1540,160 1542,168 1535,175 1540,183 1546,190 1538,205 1541,220 1534,235 1540,250 1545,262 1537,275 1542,290 1537,300 1552,322 1541,330 1544,345 1541,360 1543,375 1540,390 1536,411 1550,423 1540,440 1532,455 1541,465 1547,470 1551,485 1545,500 1545,520 1551,525 1540,535 1533,545 1536,560 1531,575 1548,585 1543,600 1547,612 1556,625 1532,630 1538,645 1547,665 1544,678 1552,690 1541,705 1535,720 1547,745 1543,755 1554,770 1540,776 1555,800 1538,810 1545,825 1540,840 1536,848 1530,853 1510,845 1490,852 1470,855 1440,852 1430,858 1420,860 1400,855 1380,852 1360,858 1340,855 1320,860 1300,862 1280,855 1260,850 1240,857 1220,862 1200,854 1180,848 1160,856 1140,860 1120,852 1100,847 1080,855 1060,861 1040,856 1020,850 1000,858 980,862 960,853 940,846 920,855 900,859 880,851 860,845 840,856 820,860 800,852 780,857 760,863 740,855 720,849 700,856 680,860 660,853 640,848 620,856 600,861 580,854 560,849 540,857 520,860 500,855 470,854 455,846 430,856 410,851 380,846 360,848 330,860 300,855 290,846 265,855 240,858 220,852 190,857 170,858 160,850 155,865 140,862 125,855 110,853 90,852 80,858 65,862 50,853 40,856 25,851 10,858 0,860"/>
</g>
<use href="#outp" fill="none" stroke="#2a2a2a" stroke-width="1"/>
</svg>
</body>
</html>
